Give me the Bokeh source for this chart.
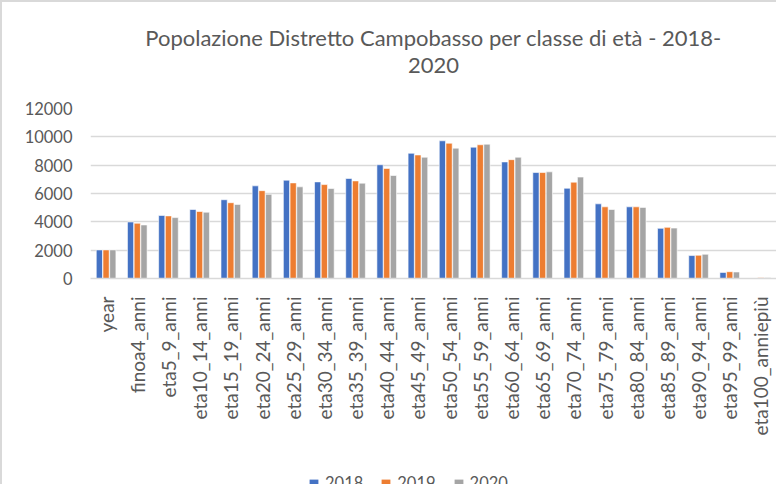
import math
from bokeh.plotting import figure
from bokeh.layouts import column
from bokeh.models import ColumnDataSource, Legend, LegendItem, Title, Range1d, FactorRange
from bokeh.transform import dodge
from bokeh.embed import file_html
from bokeh.resources import INLINE

categories = ["year", "finoa4_anni", "eta5_9_anni", "eta10_14_anni", "eta15_19_anni",
              "eta20_24_anni", "eta25_29_anni", "eta30_34_anni", "eta35_39_anni",
              "eta40_44_anni", "eta45_49_anni", "eta50_54_anni", "eta55_59_anni",
              "eta60_64_anni", "eta65_69_anni", "eta70_74_anni", "eta75_79_anni",
              "eta80_84_anni", "eta85_89_anni", "eta90_94_anni", "eta95_99_anni",
              "eta100_anniepiù"]
series_names = ["2018", "2019", "2020"]
v2018 = [2018, 3990, 4450, 4870, 5560, 6540, 6940, 6820, 7060, 8030, 8840, 9720,
         9270, 8230, 7480, 6370, 5270, 5060, 3540, 1620, 430, 40]
v2019 = [2019, 3900, 4420, 4730, 5350, 6200, 6750, 6630, 6890, 7770, 8720, 9550,
         9440, 8390, 7480, 6800, 5060, 5060, 3610, 1640, 480, 45]
v2020 = [2020, 3780, 4300, 4680, 5230, 5940, 6470, 6350, 6730, 7270, 8560, 9200,
         9480, 8560, 7530, 7160, 4870, 5020, 3560, 1710, 460, 50]
colors = ["#4472C4", "#ED7D31", "#A5A5A5"]

FONT = "Lato"
TXT = "#595959"

src = ColumnDataSource(dict(cat=categories, v2018=v2018, v2019=v2019, v2020=v2020))

p = figure(x_range=FactorRange(*categories), y_range=Range1d(0, 12000),
           frame_width=684, frame_height=168, output_backend="svg", toolbar_location=None,
           min_border_left=88, min_border_right=2, min_border_top=106, min_border_bottom=165)
p.styles = {"border-left": "2px solid #D9D9D9", "border-top": "2px solid #D9D9D9"}

p.title.text = "Popolazione Distretto Campobasso per classe di età - 2018-"
p.title.align = "center"
p.title.text_font = FONT
p.title.text_font_size = "22px"
p.title.text_font_style = "normal"
p.title.text_color = TXT
p.title.standoff = 0
spacer = Title(text=" ", text_font_size="1px", standoff=28)
p.add_layout(spacer, "above")
t2 = Title(text="2020", align="center",
           text_font=FONT, text_font_size="22px", text_font_style="normal", text_color=TXT,
           standoff=10)
p.add_layout(t2, "above")

for name, col, off, c in zip(series_names, ["v2018", "v2019", "v2020"], [-0.215, 0, 0.215], colors):
    p.vbar(x=dodge("cat", off, range=p.x_range), top=col, width=0.2, source=src,
           fill_color=c, line_color="white", line_width=0.6)

p.xgrid.grid_line_color = None
p.ygrid.grid_line_color = "#D9D9D9"
p.ygrid.grid_line_width = 1.5
p.outline_line_color = None

p.yaxis.axis_line_color = None
p.yaxis.major_tick_line_color = None
p.yaxis.minor_tick_line_color = None
p.yaxis.major_label_standoff = 12
p.yaxis.major_label_text_font = FONT
p.yaxis.major_label_text_font_size = "16.5px"
p.yaxis.major_label_text_color = TXT
p.yaxis.ticker.desired_num_ticks = 7

p.xaxis.axis_line_color = "#D9D9D9"
p.xaxis.axis_line_width = 1.5
p.xaxis.major_tick_line_color = None
p.xaxis.minor_tick_line_color = None
p.xaxis.major_label_orientation = math.pi / 2
p.xaxis.major_label_standoff = 12
p.xaxis.major_label_text_font = FONT
p.xaxis.major_label_text_font_size = "19px"
p.xaxis.major_label_text_color = TXT

# legend strip below the chart (zero-height key bars only feed the legend swatches)
lg = figure(width=774, height=68, output_backend="svg", toolbar_location=None,
            min_border_left=0, min_border_right=0, min_border_top=0, min_border_bottom=0,
            x_range=Range1d(0, 1), y_range=Range1d(0, 1))
lg.styles = {"border-left": "2px solid #D9D9D9"}
lg.axis.visible = False
lg.grid.grid_line_color = None
lg.outline_line_color = None
lg_renderers = []
for name, c in zip(series_names, colors):
    r = lg.vbar(x=[0.5], top=[0], bottom=[0], width=0.01, fill_color=c, line_color=None)
    lg_renderers.append(r)
legend = Legend(items=[LegendItem(label=n, renderers=[r]) for n, r in zip(series_names, lg_renderers)],
                orientation="horizontal", location=(218, 16), label_text_font=FONT,
                label_text_font_size="16.5px", label_text_color=TXT, glyph_width=11, glyph_height=11,
                label_standoff=6, spacing=17, padding=0, margin=0, border_line_color=None,
                background_fill_alpha=0)
lg.add_layout(legend, "center")

open("out.html", "w").write(file_html(column(p, lg, spacing=0), INLINE))
